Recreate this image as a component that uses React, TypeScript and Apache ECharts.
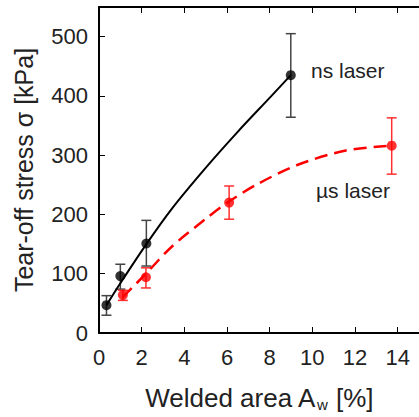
import React, { useEffect, useRef } from 'react';
import * as echarts from 'echarts';

// ns laser measurements
const nsX = [0.35, 1.0, 2.22, 8.99];
const nsY = [47, 96, 151, 435];
const nsLow = [30, 74, 113, 364];
const nsHigh = [63, 116, 190, 505];
// µs laser measurements
const usX = [1.12, 2.2, 6.1, 13.72];
const usY = [64, 94, 220, 316];
const usLow = [55, 76, 192, 268];
const usHigh = [72, 110, 248, 363];
// fitted curves
const nsFitX = [0.35, 1.0, 2.22, 3.42, 4.96, 6.49, 8.03, 8.99];
const nsFitY = [47, 84, 150, 210, 277, 339, 398, 435];
const usFitX = [1.1, 2.2, 3.42, 5.02, 6.1, 7.42, 9.26, 11.57, 13.72];
const usFitY = [60, 100, 146, 193, 222, 251, 283, 308, 316];

const FONT = 'Liberation Sans, Arial, sans-serif';

export default function App() {
  const ref = useRef<HTMLDivElement>(null);
  useEffect(() => {
    const chart = echarts.init(ref.current!, null, { renderer: 'svg' });
    const errItem = (color: string) => (params: any, api: any) => {
      const x = api.value(0);
      const pLo = api.coord([x, api.value(1)]);
      const pHi = api.coord([x, api.value(2)]);
      const w = 5;
      const style = { stroke: color, lineWidth: 1.5, fill: 'none' };
      return {
        type: 'group',
        children: [
          { type: 'line', shape: { x1: pLo[0], y1: pLo[1], x2: pHi[0], y2: pHi[1] }, style },
          { type: 'line', shape: { x1: pLo[0] - w, y1: pLo[1], x2: pLo[0] + w, y2: pLo[1] }, style },
          { type: 'line', shape: { x1: pHi[0] - w, y1: pHi[1], x2: pHi[0] + w, y2: pHi[1] }, style },
        ],
      };
    };
    const zip2 = (a: number[], b: number[]) => a.map((v, i) => [v, b[i]]);
    const zip3 = (a: number[], b: number[], c: number[]) => a.map((v, i) => [v, b[i], c[i]]);
    const axisLine = { show: true, lineStyle: { color: '#000', width: 2 } };
    const axisTick = { show: true, inside: true, length: 6, lineStyle: { color: '#000', width: 1 } };
    chart.setOption({
      animation: false,
      backgroundColor: '#fff',
      grid: { left: 99, top: 7, right: -6, bottom: 84, containLabel: false },
      xAxis: [
        {
          type: 'value', min: 0, max: 15, interval: 2, position: 'bottom',
          axisLine, axisTick, splitLine: { show: false },
          axisLabel: { fontSize: 22, color: '#222', fontFamily: FONT, margin: 13, showMaxLabel: false },
          name: 'Welded area A{sub|w} [%]', nameLocation: 'middle', nameGap: 50,
          nameTextStyle: {
            fontSize: 26, color: '#222', fontFamily: FONT,
            rich: { sub: { fontSize: 15, fontFamily: FONT, color: '#222', verticalAlign: 'bottom', padding: [14, 1, 0, 1] } },
          },
        },
        {
          type: 'value', min: 0, max: 15, interval: 2, position: 'top',
          axisLine, axisTick, splitLine: { show: false }, axisLabel: { show: false },
        },
      ],
      yAxis: [
        {
          type: 'value', min: 0, max: 550, interval: 100,
          axisLine, axisTick, splitLine: { show: false },
          axisLabel: { fontSize: 22, color: '#222', fontFamily: FONT, margin: 11, showMaxLabel: false },
          name: 'Tear-off stress σ [kPa]', nameLocation: 'middle', nameGap: 63, nameRotate: 90,
          nameTextStyle: { fontSize: 25, color: '#222', fontFamily: FONT },
        },
      ],
      series: [
        {
          type: 'custom', name: 'ns err', renderItem: errItem('#444'), data: zip3(nsX, nsLow, nsHigh),
          encode: { x: 0, y: [1, 2] }, z: 1,
        },
        {
          type: 'custom', name: 'us err', renderItem: errItem('#ff3030'), data: zip3(usX, usLow, usHigh),
          encode: { x: 0, y: [1, 2] }, z: 1,
        },
        {
          type: 'line', name: 'ns fit', data: zip2(nsFitX, nsFitY), smooth: 0.3,
          showSymbol: false, lineStyle: { color: '#000', width: 2 }, z: 2,
        },
        {
          type: 'line', name: 'us fit', data: zip2(usFitX, usFitY), smooth: 0.3,
          showSymbol: false, lineStyle: { color: '#ff0000', width: 2.5, type: [13, 7] }, z: 2,
        },
        {
          type: 'scatter', name: 'ns laser', data: zip2(nsX, nsY), symbol: 'circle', symbolSize: 10,
          itemStyle: { color: '#000' }, z: 3,
        },
        {
          type: 'scatter', name: 'µs laser', data: zip2(usX, usY), symbol: 'circle', symbolSize: 10,
          itemStyle: { color: '#ff0000' }, z: 3,
        },
      ],
      graphic: [
        { type: 'text', left: 311, top: 60, style: { text: 'ns laser', fontSize: 21, fill: '#222', fontFamily: FONT } },
        { type: 'text', left: 316, top: 180, style: { text: 'µs laser', fontSize: 21, fill: '#222', fontFamily: FONT } },
      ],
    });
    return () => chart.dispose();
  }, []);
  return <div ref={ref} style={{ position: 'fixed', left: 0, top: 0, width: 419, height: 417 }} />;
}
